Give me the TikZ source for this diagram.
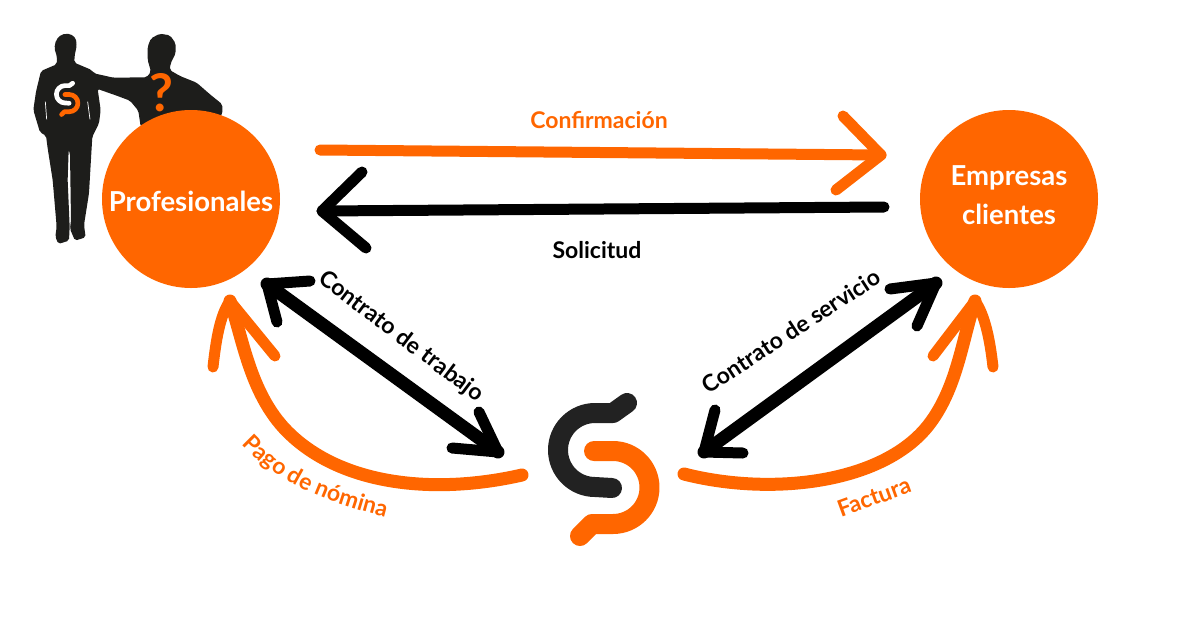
\documentclass[tikz,border=0pt]{standalone}
\usepackage{xcolor}
\usepackage{fontspec}
\setmainfont{Lato}
\usetikzlibrary{backgrounds,calc,positioning,decorations.text}

\definecolor{brandorange}{HTML}{FF6600}
\definecolor{branddark}{HTML}{1D1D1B}
\definecolor{logodark}{HTML}{222222}

% logo mark: position, scale, colour of upper stroke, colour of lower stroke
\newcommand{\logomark}[4]{%
	\begin{scope}[shift={#1},x=#2pt,y=-#2pt,line width=#2*20pt,line cap=round,line join=round]
		\draw[#3] (24,-67) -- (10,-57) -- (-8,-57) arc[start angle=90,end angle=270,radius=37,y radius=-37] -- (9,18);
		\draw[#4] (-9,-19) -- (10,-19) arc[start angle=90,end angle=-90,radius=36.5,y radius=-36.5] -- (-11,54) -- (-23,66);
	\end{scope}
}
% thick root of a hand drawn arrow head: tip, first wing, second wing
\newcommand{\headroot}[3]{\fill[black,rounded corners=2pt] (#1) -- ($(#1)!0.45!(#2)$) -- ($(#1)!0.45!(#3)$) -- cycle;}

\begin{document}
\begin{tikzpicture}[x=1pt,y=-1pt,font=\bfseries]
	\tikzstyle{bigcircle}=[circle,fill=brandorange,draw=none,minimum size=178pt,inner sep=0pt]
	\tikzstyle{circlelabel}=[text=white,align=center,font=\bfseries\fontsize{27.5}{39}\selectfont]
	\tikzstyle{orangelabel}=[text=brandorange,font=\bfseries\fontsize{23}{28}\selectfont]
	\tikzstyle{darklabel}=[text=black,font=\bfseries\fontsize{23}{28}\selectfont]
	\tikzstyle{orangeline}=[draw=brandorange,line width=11pt,line cap=round,line join=round]
	\tikzstyle{orangecurve}=[draw=brandorange,line width=13pt,line cap=round,line join=round]
	\tikzstyle{blackline}=[draw=black,line width=11pt,line cap=round,line join=round]
	\tikzstyle{contractline}=[draw=black,line width=13pt,line cap=round,line join=round]

	\useasboundingbox (0,0) rectangle (1200,630);

	% the two silhouettes
	\begin{scope}[shift={(20,20)},x=0.3333pt,y=-0.3333pt]
		\fill[branddark,rounded corners=2pt] (108,60) -- (125,43) -- (150,41) -- (168,55) -- (170,80) -- (164,105) -- (163,128) -- (215,150) -- (222,160) -- (280,173) -- (380,172) -- (393,155) -- (383,120) -- (383,80) -- (393,55) -- (420,41) -- (450,46) -- (467,70) -- (467,100) -- (452,130) -- (449,150) -- (480,168) -- (530,188) -- (570,223) -- (607,253) -- (607,282) -- (600,292) -- (520,280) -- (362,320) -- (355,272) -- (330,242) -- (290,227) -- (233,207) -- (242,270) -- (237,310) -- (217,350) -- (214,400) -- (207,520) -- (192,615) -- (197,652) -- (165,662) -- (150,627) -- (153,600) -- (150,400) -- (146,390) -- (143,480) -- (149,620) -- (147,662) -- (115,672) -- (106,650) -- (110,620) -- (98,480) -- (83,385) -- (78,347) -- (60,337) -- (40,270) -- (48,215) -- (63,153) -- (110,133) -- (111,110) -- (103,85) -- cycle;
		\draw[white,line width=0.7pt] (76,245) -- (80,298);
		\draw[white,line width=0.7pt] (203,245) -- (210,298);
	\end{scope}
	\logomark{(67,99)}{0.235}{white}{brandorange}
	\node[text=brandorange,font=\bfseries\fontsize{52}{52}\selectfont] (question) at (161,93) {?};

	\node[bigcircle] (prof) at (191,199) {};
	\node[circlelabel] (profLabel) at (191,201) {Profesionales};
	\node[bigcircle] (empresas) at (1009,199) {};
	\node[circlelabel] (empresasLabel) at (1009,195) {Empresas\\clientes};
	\coordinate (logo) at (603,470);
	\logomark{(logo)}{1}{logodark}{brandorange}

	% top arrows
	\coordinate (confStart) at (320,150);
	\coordinate (confTip) at (881,155);
	\coordinate (solStart) at (884,207);
	\coordinate (solTip) at (322,211);
	\draw[orangeline] (confStart) -- (confTip);
	\draw[orangeline] (843,116) -- (confTip) -- (836,190);
	\draw[blackline] (solStart) -- (solTip);
	\draw[blackline] (362,172) -- (solTip) -- (366,248);

	% contract arrows
	\coordinate (trabTipA) at (267,284);
	\coordinate (trabTipB) at (498,452);
	\coordinate (servTipA) at (936,283);
	\coordinate (servTipB) at (704,452);
	\coordinate (trabWingA) at (310,281);
	\coordinate (trabWingB) at (277,322);
	\coordinate (trabWingC) at (479,412);
	\coordinate (trabWingD) at (452,448);
	\coordinate (servWingA) at (890,289);
	\coordinate (servWingB) at (917,326);
	\coordinate (servWingC) at (715,410);
	\coordinate (servWingD) at (743,453);
	\draw[contractline] (trabTipA) -- (trabTipB);
	\draw[blackline] (trabWingA) -- (trabTipA) -- (trabWingB);
	\draw[blackline] (trabWingC) -- (trabTipB) -- (trabWingD);
	\draw[contractline] (servTipA) -- (servTipB);
	\draw[blackline] (servWingA) -- (servTipA) -- (servWingB);
	\draw[blackline] (servWingC) -- (servTipB) -- (servWingD);
	\headroot{trabTipA}{trabWingA}{trabWingB}
	\headroot{trabTipB}{trabWingC}{trabWingD}
	\headroot{servTipA}{servWingA}{servWingB}
	\headroot{servTipB}{servWingC}{servWingD}

	% payment curves
	\coordinate (nomStart) at (522,475);
	\coordinate (nomTip) at (230,301);
	\coordinate (facStart) at (684,474);
	\coordinate (facTip) at (975,301);
	\draw[orangecurve] (nomStart) .. controls (430,496) and (335,484) .. (283,427) .. controls (250,390) and (243,340) .. (nomTip);
	\draw[orangeline] (213,367) .. controls (216,340) and (220,315) .. (nomTip) -- (275,356);
	\draw[orangecurve] (facStart) .. controls (770,496) and (880,484) .. (927,427) .. controls (957,390) and (962,340) .. (facTip);
	\draw[orangeline] (993,367) .. controls (990,340) and (985,315) .. (facTip) -- (933,356);

	\node[orangelabel] (confirmacion) at (599,120) {Confirmación};
	\node[darklabel] (solicitud) at (597,250) {Solicitud};
	\node[darklabel,rotate=-37] (trabajo) at (401,337) {Contrato de trabajo};
	\node[darklabel,rotate=33] (servicio) at (791,331) {Contrato de servicio};
	\node[orangelabel,rotate=20] (factura) at (874,497) {Factura};
	\path[decorate,decoration={text along path,text align=center,text={|\bfseries\fontsize{23}{28}\selectfont\color{brandorange}|Pago de nómina}}] (240,442) .. controls (268,472) and (300,496) .. (388,518);
\end{tikzpicture}
\end{document}
